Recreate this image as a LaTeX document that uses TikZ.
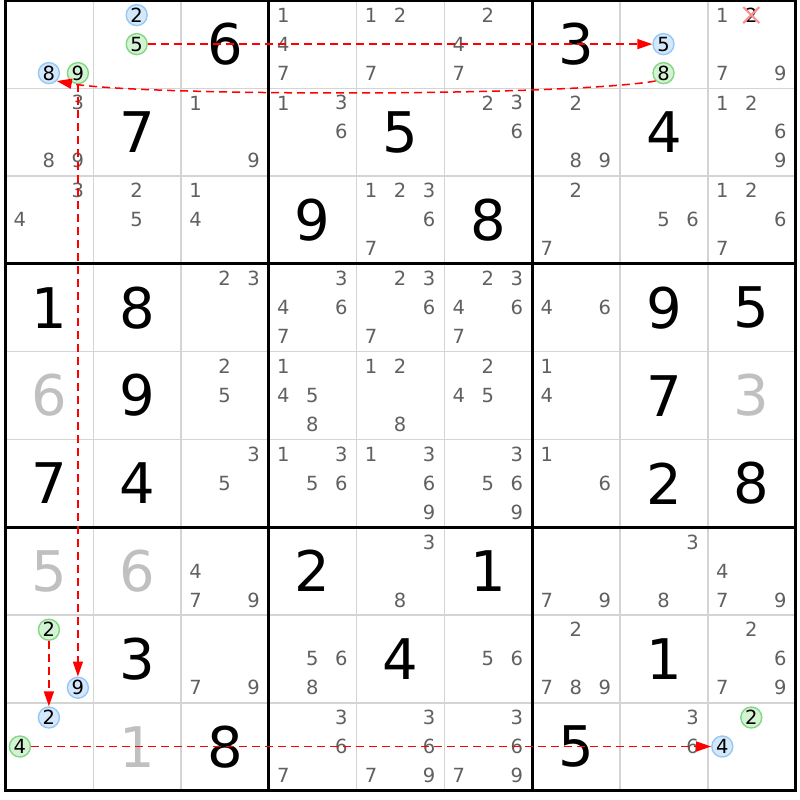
\documentclass[tikz,border=0pt]{standalone}
\usepackage{fontspec}
\setmainfont{DejaVu Sans}
\usetikzlibrary{arrows.meta}
\definecolor{candgray}{RGB}{96,96,96}
\definecolor{givengray}{RGB}{192,192,192}
\definecolor{gridgray}{RGB}{212,212,212}
\definecolor{hlblue}{RGB}{212,232,251}
\definecolor{hlbluedraw}{RGB}{150,200,245}
\definecolor{hlgreen}{RGB}{212,243,212}
\definecolor{hlgreendraw}{RGB}{130,215,130}
\definecolor{linkred}{RGB}{255,0,0}
\definecolor{xpink}{RGB}{255,140,140}
\tikzset{
  cand/.style={text=candgray, font=\fontsize{19.5}{19.5}\selectfont, inner sep=0pt},
  big/.style={font=\fontsize{56}{56}\selectfont, inner sep=0pt},
  hlbase/.style={circle, minimum size=21pt, inner sep=0pt, line width=1.4pt, text=black, font=\fontsize{19.5}{19.5}\selectfont},
  hlb/.style={hlbase, fill=hlblue, draw=hlbluedraw},
  hlg/.style={hlbase, fill=hlgreen, draw=hlgreendraw},
  thingrid/.style={draw=gridgray, line width=1.5pt},
  thickgrid/.style={draw=black, line width=3pt},
  link/.style={draw=linkred, line width=1.5pt, dash pattern=on 8pt off 5pt, -{Triangle[length=15pt,width=10pt]}},
  elim/.style={draw=xpink, line width=2pt}
}
\newcommand\candpos[3]{%
  \pgfmathsetmacro\ox{5.5+(#2-0.5)*87.8+(mod(#3-1,3)-1)*29-0.5}%
  \pgfmathsetmacro\oy{0.5+(#1-0.5)*87.8+(floor((#3-1)/3)-1)*29-0.3}}
\newcommand\cands[3]{\foreach \d in {#3}{\candpos{#1}{#2}{\d}\node[cand] (k#1#2\d) at (\ox,\oy) {\d};}}
\newcommand\given[4][black]{\node[big,text=#1] (v#2#3) at ({5.5+(#3-0.5)*87.8},{0.5+(#2-0.5)*87.8}) {#4};}
\newcommand\hl[4]{\candpos{#2}{#3}{#4}\node[#1] (h#2#3#4) at (\ox,\oy) {#4};}
\begin{document}
\begin{tikzpicture}[x=1pt,y=-1pt]
\useasboundingbox (0,0) rectangle (800,800);
\fill[white] (0,0) rectangle (800,800);
% grid
\foreach \i in {1,2,4,5,7,8}{
  \draw[thingrid] ({5.5+\i*87.8},0.5) -- ({5.5+\i*87.8},790.5);
  \draw[thingrid] (5.5,{0.5+\i*87.8}) -- (795.5,{0.5+\i*87.8});
}
\foreach \i in {0,3,6,9}{
  \draw[thickgrid] ({5.5+\i*87.8},-1) -- ({5.5+\i*87.8},792);
  \draw[thickgrid] (4,{0.5+\i*87.8}) -- (797,{0.5+\i*87.8});
}
% row 1
\hl{hlb}{1}{1}{8} \hl{hlg}{1}{1}{9}
\hl{hlb}{1}{2}{2} \hl{hlg}{1}{2}{5}
\given{1}{3}{6}
\cands{1}{4}{1,4,7} \cands{1}{5}{1,2,7} \cands{1}{6}{2,4,7}
\given{1}{7}{3}
\hl{hlb}{1}{8}{5} \hl{hlg}{1}{8}{8}
\cands{1}{9}{1,7,9}
\candpos{1}{9}{2}\node[cand,text=black] (k192) at (\ox,\oy) {2};
\draw[elim] ([shift={(-8,-8)}]k192.center) -- ([shift={(8,8)}]k192.center);
\draw[elim] ([shift={(-8,8)}]k192.center) -- ([shift={(8,-8)}]k192.center);
% row 2
\cands{2}{1}{3,8,9} \given{2}{2}{7} \cands{2}{3}{1,9} \cands{2}{4}{1,3,6} \given{2}{5}{5}
\cands{2}{6}{2,3,6} \cands{2}{7}{2,8,9} \given{2}{8}{4} \cands{2}{9}{1,2,6,9}
% row 3
\cands{3}{1}{3,4} \cands{3}{2}{2,5} \cands{3}{3}{1,4} \given{3}{4}{9} \cands{3}{5}{1,2,3,6,7}
\given{3}{6}{8} \cands{3}{7}{2,7} \cands{3}{8}{5,6} \cands{3}{9}{1,2,6,7}
% row 4
\given{4}{1}{1} \given{4}{2}{8} \cands{4}{3}{2,3} \cands{4}{4}{3,4,6,7} \cands{4}{5}{2,3,6,7}
\cands{4}{6}{2,3,4,6,7} \cands{4}{7}{4,6} \given{4}{8}{9} \given{4}{9}{5}
% row 5
\given[givengray]{5}{1}{6} \given{5}{2}{9} \cands{5}{3}{2,5} \cands{5}{4}{1,4,5,8} \cands{5}{5}{1,2,8}
\cands{5}{6}{2,4,5} \cands{5}{7}{1,4} \given{5}{8}{7} \given[givengray]{5}{9}{3}
% row 6
\given{6}{1}{7} \given{6}{2}{4} \cands{6}{3}{3,5} \cands{6}{4}{1,3,5,6} \cands{6}{5}{1,3,6,9}
\cands{6}{6}{3,5,6,9} \cands{6}{7}{1,6} \given{6}{8}{2} \given{6}{9}{8}
% row 7
\given[givengray]{7}{1}{5} \given[givengray]{7}{2}{6} \cands{7}{3}{4,7,9} \given{7}{4}{2} \cands{7}{5}{3,8}
\given{7}{6}{1} \cands{7}{7}{7,9} \cands{7}{8}{3,8} \cands{7}{9}{4,7,9}
% row 8
\hl{hlg}{8}{1}{2} \hl{hlb}{8}{1}{9} \given{8}{2}{3} \cands{8}{3}{7,9} \cands{8}{4}{5,6,8} \given{8}{5}{4}
\cands{8}{6}{5,6} \cands{8}{7}{2,7,8,9} \given{8}{8}{1} \cands{8}{9}{2,6,7,9}
% row 9
\hl{hlb}{9}{1}{2} \hl{hlg}{9}{1}{4} \given[givengray]{9}{2}{1} \given{9}{3}{8} \cands{9}{4}{3,6,7}
\cands{9}{5}{3,6,7,9} \cands{9}{6}{3,6,7,9} \given{9}{7}{5} \cands{9}{8}{3,6}
\hl{hlg}{9}{9}{2} \hl{hlb}{9}{9}{4}
% links
\draw[link] (h125) -- (h185);
\draw[link] (h188.225) .. controls +(-95,16) and +(82,15) .. (h118.-45);
\draw[link] (h119) -- (h819);
\draw[link] (h812) -- (h912);
\draw[link] (h914) -- (h994);
\end{tikzpicture}
\end{document}
